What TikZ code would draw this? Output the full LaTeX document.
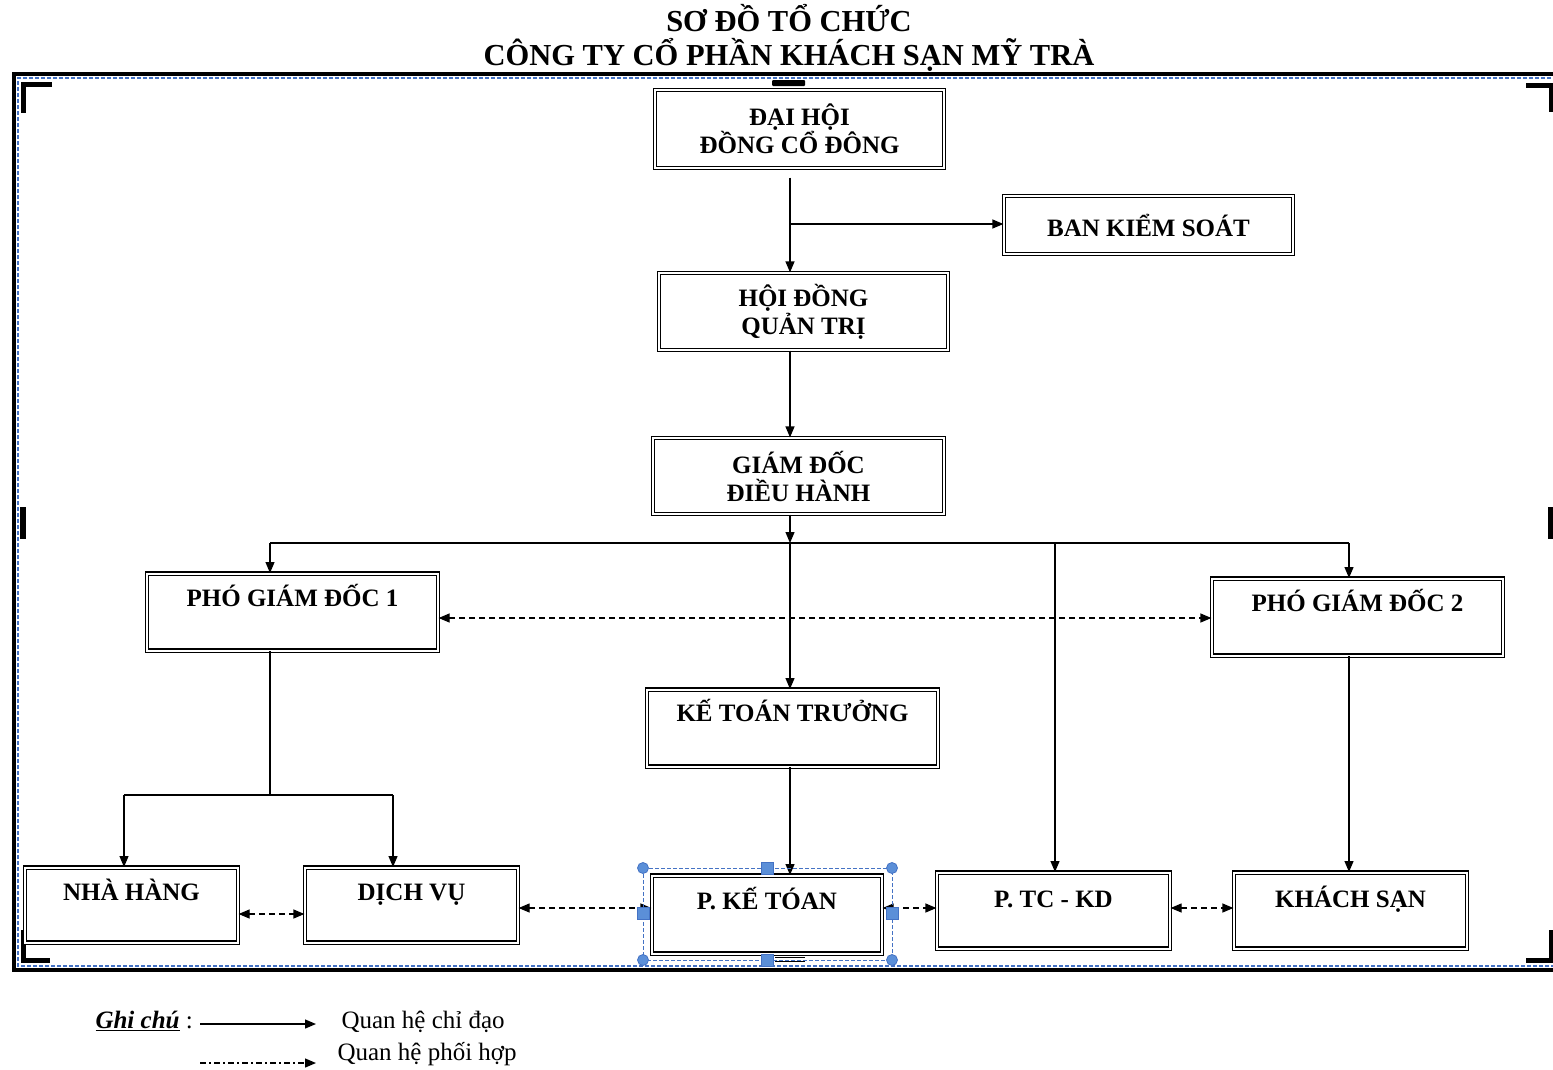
\documentclass[tikz,border=0pt]{standalone}
\usepackage{fontspec}
\setmainfont{Liberation Serif}
\usetikzlibrary{arrows.meta,calc}
\definecolor{selblue}{RGB}{68,114,196}
\definecolor{handlefill}{RGB}{91,143,216}
\begin{document}
\begin{tikzpicture}[x=1pt,y=-1pt,
  box/.style={draw, double, line width=1.2pt, double distance=2pt, inner sep=0pt, fill=white,
    font=\fontsize{25}{28}\selectfont\bfseries, align=center},
  conn/.style={line width=1.2pt},
  arr/.style={conn, -{Triangle[length=11pt,width=9pt]}},
  darr/.style={conn, dash pattern=on 6pt off 4pt, {Triangle[length=11pt,width=9pt]}-{Triangle[length=11pt,width=9pt]}},
  crop/.style={line width=5pt},
  handle/.style={draw=selblue, fill=handlefill, line width=0.8pt},
  legend/.style={font=\fontsize{25}{28}\selectfont}
]
\useasboundingbox (0,0) rectangle (1553,1069);

% frame
\draw[line width=3.5pt] (1575,74) -- (14,74) -- (14,970) -- (1575,970);
\draw[selblue, line width=1.3pt, dash pattern=on 4pt off 2pt] (1575,78) -- (18,78) -- (18,966) -- (1575,966);

% crop marks
\draw[crop] (52,84) -- (23,84) -- (23,113);
\draw[crop] (1526,85) -- (1551,85) -- (1551,112);
\draw[crop] (23,930) -- (23,960) -- (50,960);
\draw[crop] (1526,960) -- (1551,960) -- (1551,930);
\fill (20,507) rectangle (26,539);
\fill (1548,507) rectangle (1553,539);

% title
\node[font=\fontsize{30.5}{34}\selectfont\bfseries, align=center] (title) at (789,38)
  {SƠ ĐỒ TỔ CHỨC\\CÔNG TY CỔ PHẦN KHÁCH SẠN MỸ TRÀ};

% boxes
\node[box, minimum width=289pt, minimum height=78pt] (dh) at (799.5,129) {ĐẠI HỘI\\ĐỒNG CỔ ĐÔNG};
\node[box, minimum width=289pt, minimum height=58pt] (bks) at (1148.5,225) {BAN KIỂM SOÁT};
\node[box, minimum width=289pt, minimum height=77pt] (hd) at (803.5,311.5) {HỘI ĐỒNG\\QUẢN TRỊ};
\node[box, minimum width=291pt, minimum height=76pt] (gd) at (798.5,476) {GIÁM ĐỐC\\ĐIỀU HÀNH};
\node[box, anchor=north, minimum width=291pt, text height=33pt, text depth=44pt] (pgd1) at (292.5,573) {PHÓ GIÁM ĐỐC 1};
\node[box, anchor=north, minimum width=291pt, text height=33pt, text depth=44pt] (pgd2) at (1357.5,578) {PHÓ GIÁM ĐỐC 2};
\node[box, anchor=north, minimum width=291pt, text height=32pt, text depth=45pt] (ktt) at (792.5,689) {KẾ TOÁN TRƯỞNG};
\node[box, anchor=north, minimum width=213pt, text height=33pt, text depth=42pt] (nh) at (131.5,867) {NHÀ HÀNG};
\node[box, anchor=north, minimum width=213pt, text height=33pt, text depth=42pt] (dv) at (411.5,867) {DỊCH VỤ};
\node[box, anchor=north, minimum width=230pt, text height=34pt, text depth=44pt] (pkt) at (767,875) {P. KẾ TÓAN};
\node[box, anchor=north, minimum width=233pt, text height=35pt, text depth=41pt] (ptc) at (1053.5,872) {P. TC - KD};
\node[box, anchor=north, minimum width=233pt, text height=35pt, text depth=41pt] (ks) at (1350.5,872) {KHÁCH SẠN};

% helper coordinates
\coordinate (sp) at (790,0);
\coordinate (br) at (790,224);
\coordinate (bus) at (790,543);
\coordinate (busL) at (270,543);
\coordinate (busR) at (1349,543);
\coordinate (busT) at (1055,543);
\coordinate (sub) at (270,795);
\coordinate (subL) at (124,795);
\coordinate (subR) at (393,795);
\coordinate (dy1) at (0,618);
\coordinate (dy2) at (0,914);
\coordinate (dy3) at (0,908);

% solid connectors
\draw[arr] ([yshift=-9pt]dh.south -| sp) -- (hd.north -| sp);
\draw[arr] (br) -- (br -| bks.west);
\draw[arr] (hd.south -| sp) -- (gd.north -| sp);
\draw[arr] (gd.south -| sp) -- (bus);
\draw[conn] (busL) -- (busR);
\draw[arr] (busL) -- (pgd1.north -| busL);
\draw[arr] (busR) -- (pgd2.north -| busR);
\draw[arr] (bus) -- (ktt.north -| bus);
\draw[arr] (busT) -- (ptc.north -| busT);
\draw[conn] (pgd1.south -| sub) -- (sub);
\draw[conn] (subL) -- (subR);
\draw[arr] (subL) -- (nh.north -| subL);
\draw[arr] (subR) -- (dv.north -| subR);
\draw[arr] (pgd2.south -| busR) -- (ks.north -| busR);
\draw[arr] (ktt.south -| bus) -- (pkt.north -| bus);

% dashed connectors
\draw[darr] (pgd1.east |- dy1) -- (pgd2.west |- dy1);
\draw[darr] (nh.east |- dy2) -- (dv.west |- dy2);
\draw[darr] (dv.east |- dy3) -- (pkt.west |- dy3);
\draw[darr] (pkt.east |- dy3) -- (ptc.west |- dy3);
\draw[darr] (ptc.east |- dy3) -- (ks.west |- dy3);

% top / bottom middle marks
\fill[rounded corners=1pt] (772,80) rectangle (805,86);
\draw[line width=1pt] (775,957) -- (805,957);
\draw[line width=1pt] (775,961) -- (805,961);

% selection overlay around P. KE TOAN
\draw[selblue, line width=1pt, dash pattern=on 4pt off 2pt] (643,868) rectangle (892,960);
\foreach \p in {(643,868),(892,868),(643,960),(892,960)} {\draw[handle] \p circle (5.5pt);}
\foreach \p in {(767,868),(643,913),(892,913),(767,960)} {\draw[handle] \p ++(-6,-6) rectangle ++(12,12);}

% legend
\node[legend, anchor=base west] (gc) at (92,1028) {\textbf{\textit{\underline{Ghi chú}}} :};
\node[legend, anchor=base west] (q1) at (338,1028) {Quan hệ chỉ đạo};
\node[legend, anchor=base west] (q2) at (334,1060) {Quan hệ phối hợp};
\coordinate (la1) at (200,1024);
\coordinate (lb1) at (316,1024);
\coordinate (la2) at (200,1063);
\coordinate (lb2) at (316,1063);
\draw[arr] (la1) -- (lb1);
\draw[conn, dash pattern=on 6pt off 3pt on 2pt off 3pt, -{Triangle[length=11pt,width=9pt]}] (la2) -- (lb2);
\end{tikzpicture}
\end{document}
